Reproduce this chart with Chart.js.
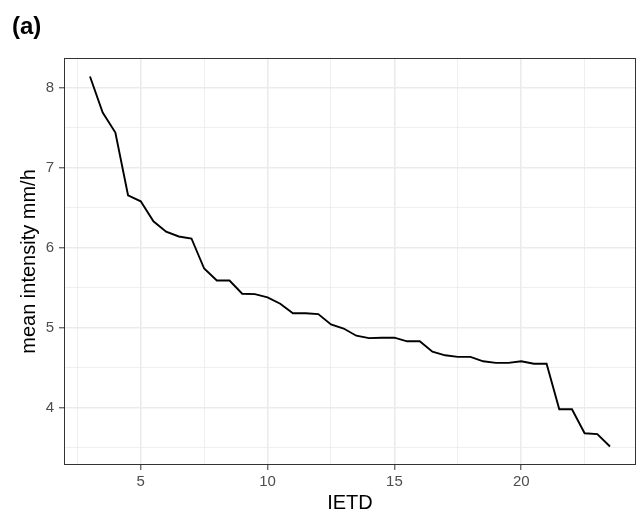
<!DOCTYPE html>
<html>
<head>
<meta charset="utf-8">
<script src="https://cdn.jsdelivr.net/npm/chart.js@4"></script>
<style>
  body { margin: 0; background: #fff; }
  #wrap { width: 637px; height: 515px; }
</style>
</head>
<body>
<div id="wrap"><canvas id="grafico" width="637" height="515"></canvas></div>
<script>
// IETD (h) and mean intensity (mm/h)
const ietd = [3, 3.5, 4, 4.5, 5, 5.5, 6, 6.5, 7, 7.5, 8, 8.5, 9, 9.5, 10, 10.5,
  11, 11.5, 12, 12.5, 13, 13.5, 14, 14.5, 15, 15.5, 16, 16.5, 17, 17.5, 18, 18.5,
  19, 19.5, 20, 20.5, 21, 21.5, 22, 22.5, 23, 23.5];
const meanIntensity = [8.14, 7.69, 7.44, 6.655, 6.58, 6.33, 6.20, 6.14, 6.115, 5.74,
  5.59, 5.59, 5.425, 5.42, 5.38, 5.30, 5.18, 5.18, 5.17, 5.04, 4.99, 4.90, 4.87,
  4.875, 4.875, 4.83, 4.83, 4.70, 4.655, 4.635, 4.635, 4.58, 4.56, 4.56, 4.58,
  4.55, 4.55, 3.98, 3.98, 3.68, 3.67, 3.515];

// grid positions (major = labelled, the others are minor lines)
const xTicks = [2.5, 5, 7.5, 10, 12.5, 15, 17.5, 20, 22.5];
const xMajor = [5, 10, 15, 20];
const yTicks = [3.5, 4, 4.5, 5, 5.5, 6, 6.5, 7, 7.5, 8];
const yMajor = [4, 5, 6, 7, 8];

const FONT = "'Liberation Sans', Arial, sans-serif";

const panelBorder = {
  id: 'panelBorder',
  afterDraw(chart) {
    const { ctx, chartArea: a } = chart;
    ctx.save();
    ctx.strokeStyle = '#333333';
    ctx.lineWidth = 1;
    ctx.strokeRect(a.left + 0.5, a.top + 0.5, a.right - a.left - 1, a.bottom - a.top - 1);
    ctx.restore();
  }
};

const isMajor = (list, v) => list.some(m => Math.abs(m - v) < 1e-6);

const ctx = document.getElementById('grafico').getContext('2d');
new Chart(ctx, {
  type: 'line',
  data: {
    datasets: [{
      data: ietd.map((x, i) => ({ x: x, y: meanIntensity[i] })),
      borderColor: '#000000',
      borderWidth: 1.9,
      pointRadius: 0,
      tension: 0,
      fill: false
    }]
  },
  options: {
    responsive: false,
    animation: false,
    layout: { padding: { left: 12, right: 1, top: 0, bottom: 0 } },
    plugins: {
      legend: { display: false },
      tooltip: { enabled: false },
      title: {
        display: true,
        text: '(a)',
        align: 'start',
        color: '#000000',
        font: { family: FONT, size: 24, weight: 'bold' },
        padding: { top: 13, bottom: 16.2 }
      }
    },
    scales: {
      x: {
        type: 'linear',
        min: 1.975,
        max: 24.525,
        afterBuildTicks: s => { s.ticks = xTicks.map(v => ({ value: v })); },
        afterFit: s => { s.height = 50; },
        border: { display: false },
        grid: {
          color: '#EBEBEB',
          lineWidth: c => isMajor(xMajor, c.tick.value) ? 1.6 : 0.8,
          tickColor: c => isMajor(xMajor, c.tick.value) ? '#333333' : 'rgba(0,0,0,0)',
          tickLength: 5,
          tickWidth: 1
        },
        ticks: {
          autoSkip: false,
          maxRotation: 0,
          color: '#4D4D4D',
          font: { family: FONT, size: 15 },
          padding: 3,
          callback: v => isMajor(xMajor, v) ? String(v) : ''
        },
        title: {
          display: true,
          text: 'IETD',
          color: '#000000',
          font: { family: FONT, size: 20 },
          padding: { top: 0, bottom: 0 }
        }
      },
      y: {
        type: 'linear',
        min: 3.284,
        max: 8.371,
        afterBuildTicks: s => { s.ticks = yTicks.map(v => ({ value: v })); },
        afterFit: s => { s.width = 52; },
        border: { display: false },
        grid: {
          color: '#EBEBEB',
          lineWidth: c => isMajor(yMajor, c.tick.value) ? 1.6 : 0.8,
          tickColor: c => isMajor(yMajor, c.tick.value) ? '#333333' : 'rgba(0,0,0,0)',
          tickLength: 5,
          tickWidth: 1
        },
        ticks: {
          autoSkip: false,
          color: '#4D4D4D',
          font: { family: FONT, size: 15 },
          padding: 5,
          callback: v => isMajor(yMajor, v) ? String(v) : ''
        },
        title: {
          display: true,
          text: 'mean intensity mm/h',
          color: '#000000',
          font: { family: FONT, size: 20 },
          padding: { top: 5, bottom: 0 }
        }
      }
    }
  },
  plugins: [panelBorder]
});
</script>
</body>
</html>
